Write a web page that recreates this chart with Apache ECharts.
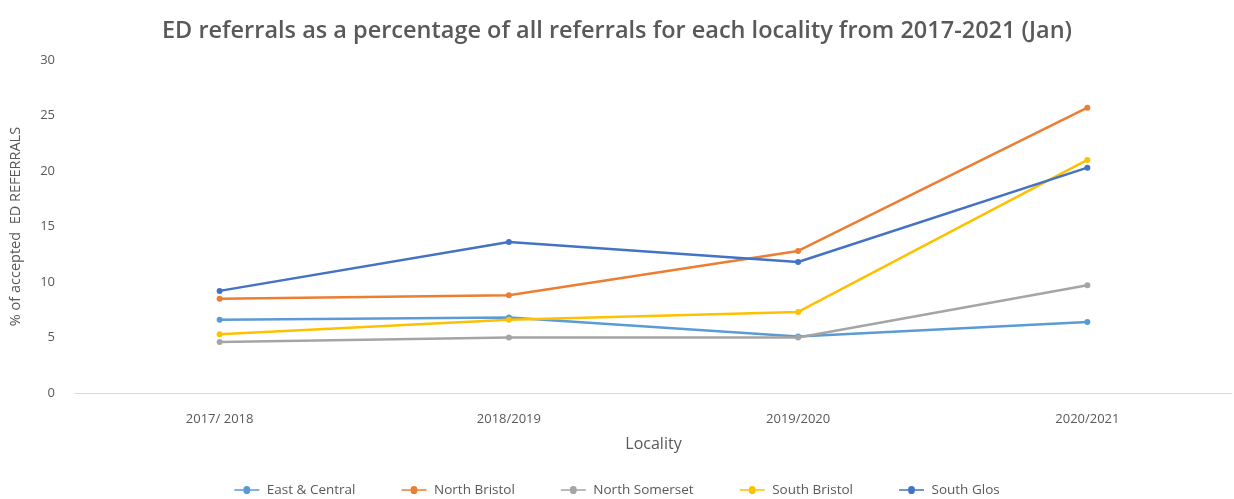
<!DOCTYPE html>
<html>
<head>
<meta charset="utf-8">
<script src="https://cdn.jsdelivr.net/npm/echarts@6/dist/echarts.min.js"></script>
<style>
  html, body { margin: 0; padding: 0; background: #fff; }
  #chart { width: 1234px; height: 499px; }
</style>
</head>
<body>
<div id="chart"></div>
<script>
// Years on the category axis
const years = ['2017/ 2018', '2018/2019', '2019/2020', '2020/2021'];

// ED referrals as % of all accepted referrals, per locality
const eastCentral    = [6.6, 6.8, 5.1, 6.4];
const northBristol   = [8.5, 8.8, 12.8, 25.7];
const northSomerset  = [4.6, 5.0, 5.0, 9.7];
const southBristol   = [5.3, 6.6, 7.3, 21.0];
const southGlos      = [9.2, 13.6, 11.8, 20.3];

const yTicks = [0, 5, 10, 15, 20, 25, 30];

const seriesDefs = [
  { name: 'East & Central', data: eastCentral,   color: '#5B9BD5' },
  { name: 'North Bristol',  data: northBristol,  color: '#ED7D31' },
  { name: 'North Somerset', data: northSomerset, color: '#A5A5A5' },
  { name: 'South Bristol',  data: southBristol,  color: '#FFC000' },
  { name: 'South Glos',     data: southGlos,     color: '#4472C4' }
];

const font = '"Open Sans", "Liberation Sans", sans-serif';
const chart = echarts.init(document.getElementById('chart'), null, { renderer: 'canvas' });

// legend glyph: short line with a dot in the middle
const legendIcon = 'path://M0,3.2 L11,3.2 A3,3 0 0 1 19,3.2 L30,3.2 L30,4.8 L19,4.8 A3,3 0 0 1 11,4.8 L0,4.8 Z';

chart.setOption({
  backgroundColor: '#ffffff',
  animation: false,
  title: {
    text: 'ED referrals as a percentage of all referrals for each locality from 2017-2021 (Jan)',
    left: 'center',
    top: 14,
    textStyle: { fontFamily: font, fontSize: 23.5, fontWeight: 600, color: '#595959' }
  },
  legend: {
    bottom: -3,
    left: 'center',
    itemWidth: 30,
    itemHeight: 8,
    itemGap: 46,
    icon: legendIcon,
    textStyle: { fontFamily: font, fontSize: 13.5, color: '#595959' },
    data: seriesDefs.map(s => s.name)
  },
  grid: { left: 74, right: 2, top: 60, bottom: 106, containLabel: false },
  xAxis: {
    type: 'category',
    data: years,
    boundaryGap: true,
    name: 'Locality',
    nameLocation: 'middle',
    nameGap: 43,
    nameTextStyle: { fontFamily: font, fontSize: 16, color: '#595959' },
    axisLine: { show: true, lineStyle: { color: '#d9d9d9', width: 1 } },
    axisTick: { show: false },
    axisLabel: { fontFamily: font, fontSize: 13, color: '#595959', margin: 20 }
  },
  yAxis: {
    type: 'value',
    min: yTicks[0],
    max: yTicks[yTicks.length - 1],
    interval: 5,
    name: '% of accepted  ED REFERRALS',
    nameLocation: 'middle',
    nameGap: 52,
    nameTextStyle: { fontFamily: font, fontSize: 14.5, color: '#595959' },
    axisLine: { show: false },
    axisTick: { show: false },
    splitLine: { show: false },
    axisLabel: { fontFamily: font, fontSize: 13, color: '#595959', margin: 20 }
  },
  series: seriesDefs.map(s => ({
    name: s.name,
    type: 'line',
    data: s.data,
    symbol: 'circle',
    symbolSize: 6,
    itemStyle: { color: s.color },
    lineStyle: { color: s.color, width: 2.5 }
  }))
});
</script>
</body>
</html>
